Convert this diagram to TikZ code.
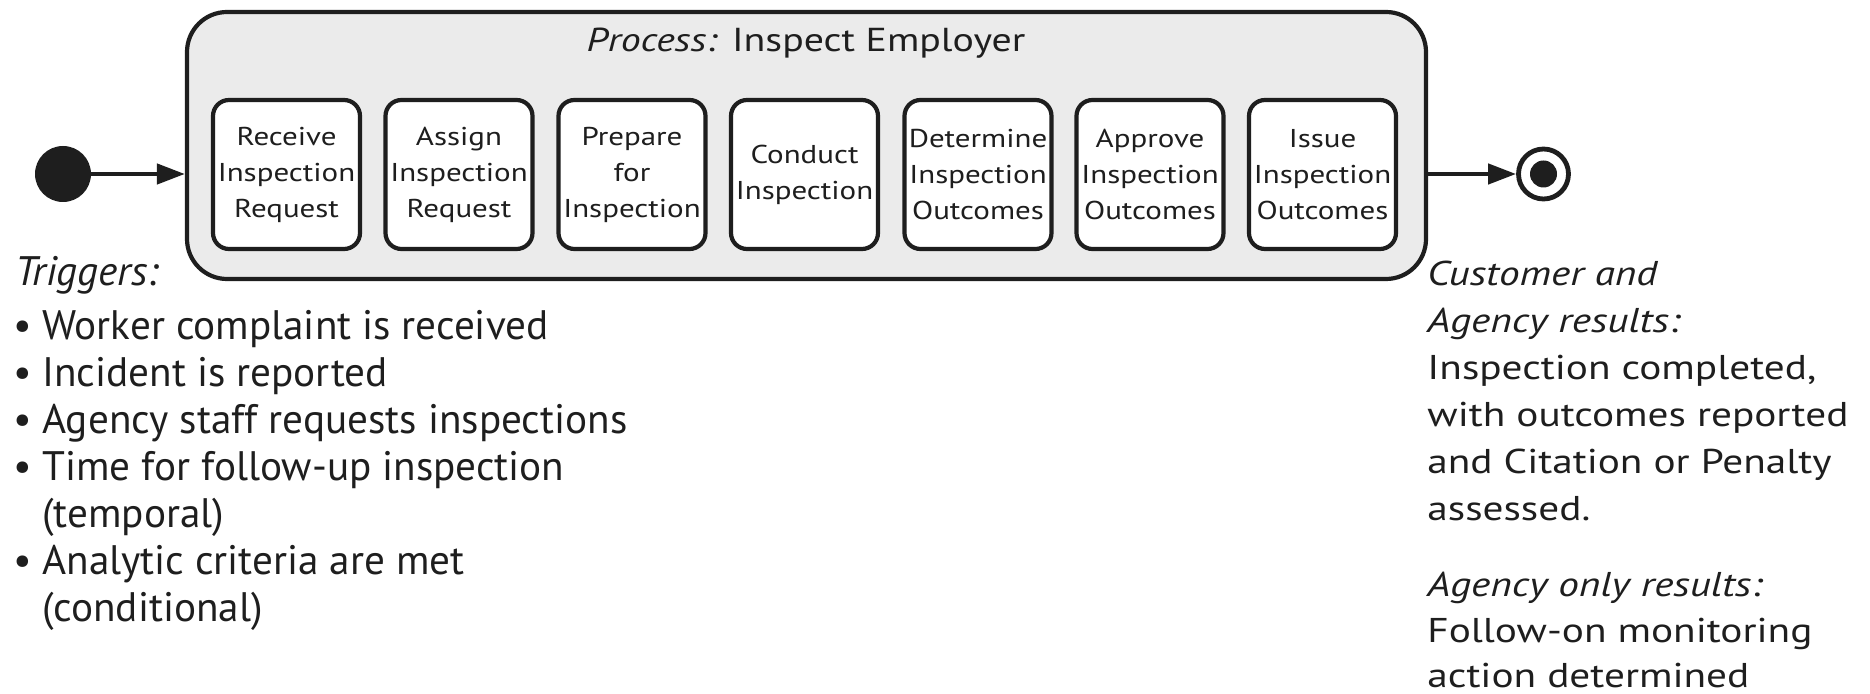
\documentclass[tikz,border=0pt]{standalone}
\usepackage{fontspec}
\setmainfont{PT Sans}
\newfontfamily\widefont[FakeStretch=1.2]{PT Sans}
\usetikzlibrary{arrows.meta}

\definecolor{inkc}{RGB}{30,30,30}
\definecolor{procfill}{RGB}{235,235,235}

\newcommand{\bul}{\makebox[14.5pt][l]{•}}

\begin{document}
\begin{tikzpicture}[x=0.5pt,y=-0.5pt,
  procbox/.style={draw=inkc, line width=2.1pt, fill=procfill, rounded corners=20pt,
    minimum width=619.5pt, minimum height=133.5pt, inner sep=0pt},
  stepbox/.style={draw=inkc, line width=2.1pt, fill=white, rounded corners=8pt,
    minimum width=73.5pt, minimum height=74.5pt, inner sep=0pt, align=center,
    text=inkc, font=\widefont\fontsize{12.9}{18}\selectfont},
  titletext/.style={text=inkc, inner sep=0pt, font=\widefont\fontsize{16.6}{20}\selectfont},
  lefttext/.style={text=inkc, inner sep=0pt, anchor=base west, font=\fontsize{20.6}{24}\selectfont},
  righttext/.style={text=inkc, inner sep=0pt, anchor=base west, font=\widefont\fontsize{17.2}{20}\selectfont},
  startdot/.style={circle, fill=inkc, minimum size=28pt, inner sep=0pt},
  endring/.style={circle, draw=inkc, line width=2.4pt, fill=white, minimum size=25pt, inner sep=0pt},
  enddot/.style={circle, fill=inkc, minimum size=13.5pt, inner sep=0pt},
  flow/.style={draw=inkc, line width=2.2pt, -{Triangle[length=14pt, width=10pt]}}]

\useasboundingbox (0,0) rectangle (1870,694);

% process container and its title
\node[procbox] (proc) at (806.5,145.5) {};
\node[titletext, anchor=base] (title) at (806,52) {\textit{Process:} Inspect Employer};

% activity steps
\node[stepbox] (s1) at (286.5,174.5) {Receive\\Inspection\\Request};
\node[stepbox] (s2) at (459,174.5) {Assign\\Inspection\\Request};
\node[stepbox] (s3) at (632,174.5) {Prepare\\for\\Inspection};
\node[stepbox] (s4) at (804.5,174.5) {Conduct\\Inspection};
\node[stepbox] (s5) at (978,174.5) {Determine\\Inspection\\Outcomes};
\node[stepbox] (s6) at (1150,174.5) {Approve\\Inspection\\Outcomes};
\node[stepbox] (s7) at (1322.5,174.5) {Issue\\Inspection\\Outcomes};

% initial and final states
\node[startdot] (start) at (63,174) {};
\node[endring] (end) at (1543.5,174) {};
\node[enddot] (enddot) at (end.center) {};

\draw[flow] (start) -- (start -| proc.west);
\draw[flow] (proc.east |- end) -- (end);

% triggers
\node[lefttext] (trig) at (15,286) {\textit{Triggers:}};
\node[lefttext] (tr1) at (13,340) {\bul Worker complaint is received};
\node[lefttext] (tr2) at (13,387) {\bul Incident is reported};
\node[lefttext] (tr3) at (13,434) {\bul Agency staff requests inspections};
\node[lefttext] (tr4) at (13,481) {\bul Time for follow-up inspection};
\node[lefttext] (tr4b) at (42,528) {(temporal)};
\node[lefttext] (tr5) at (13,575) {\bul Analytic criteria are met};
\node[lefttext] (tr5b) at (42,622) {(conditional)};

% results
\node[righttext] (res1) at (1427,286) {\textit{Customer and}};
\node[righttext] (res2) at (1427,333) {\textit{Agency results:}};
\node[righttext] (res3) at (1427,380) {Inspection completed,};
\node[righttext] (res4) at (1427,427) {with outcomes reported};
\node[righttext] (res5) at (1427,474) {and Citation or Penalty};
\node[righttext] (res6) at (1427,521) {assessed.};
\node[righttext] (res7) at (1427,597) {\textit{Agency only results:}};
\node[righttext] (res8) at (1427,643) {Follow-on monitoring};
\node[righttext] (res9) at (1427,688) {action determined};
\end{tikzpicture}
\end{document}
